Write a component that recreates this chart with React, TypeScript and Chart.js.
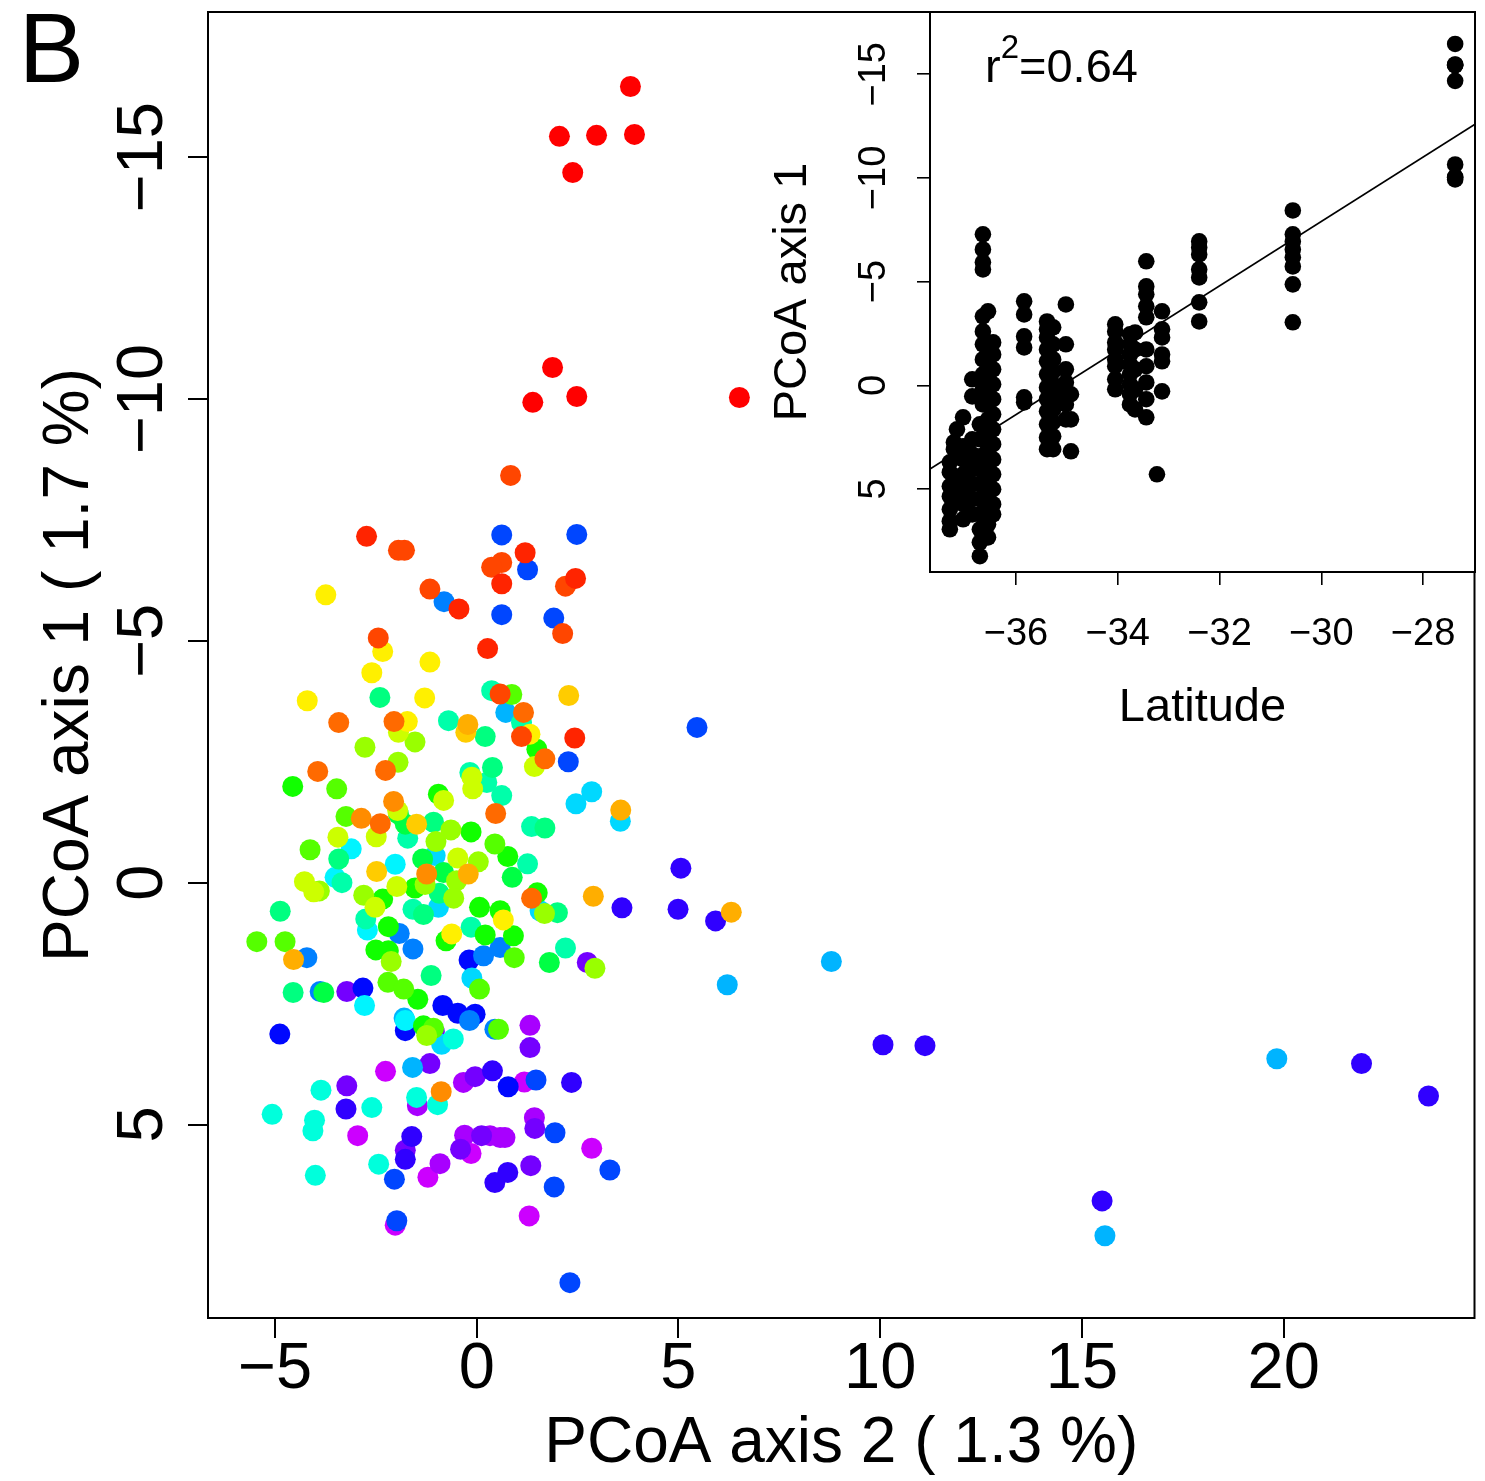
import React, { useEffect, useRef } from 'react';
import { Chart, registerables } from 'chart.js';

Chart.register(...registerables);

const FONT = '"Liberation Sans", Arial, Helvetica, sans-serif';
const MINUS = '\u2212';
const fmt = (v: number) => (v < 0 ? MINUS + Math.abs(v) : String(v));

// ---------- main plot axes ----------
const xTicks = [-5, 0, 5, 10, 15, 20];
const yTicks = [-15, -10, -5, 0, 5];
const xRange = [-6.66, 24.73];
const yRange = [-18.0, 9.0];
const xTitle = 'PCoA axis 2 ( 1.3 %)';
const yTitle = 'PCoA axis 1 ( 1.7 %)';
const panelLabel = 'B';

// ---------- main plot points, grouped by colour ----------
const red0Pts = [[3.81, -16.46], [2.05, -15.43], [2.97, -15.45], [3.91, -15.47], [2.38, -14.68], [1.88, -10.65], [1.39, -9.93], [2.48, -10.05], [6.51, -10.03]];
const redPts = [[-2.73, -7.16], [-0.44, -5.66], [0.27, -4.84], [1.20, -6.82], [0.62, -6.18], [2.45, -6.29], [2.43, -2.99]];
const orangeRedPts = [[0.84, -8.42], [-1.94, -6.87], [-1.79, -6.87], [-1.16, -6.07], [-2.44, -5.06], [0.62, -6.62], [0.37, -6.52], [2.20, -6.13], [2.13, -5.15], [0.58, -3.90], [1.11, -3.02]];
const orangePts = [[-3.42, -3.31], [-2.05, -3.33], [-2.26, -2.32], [-3.94, -2.30], [1.16, -3.52], [1.69, -2.56], [0.47, -1.43], [1.36, 0.32], [-2.39, -1.22]];
const darkOrangePts = [[-2.86, -1.33], [-1.24, -0.18], [-0.88, 4.32], [-2.06, -1.68]];
const amberPts = [[-0.22, -3.27], [3.57, -1.50], [2.89, 0.28], [6.31, 0.61], [-0.21, -0.18], [-4.54, 1.59]];
const goldPts = [[-0.27, -3.11], [2.28, -3.87], [-1.49, -1.21], [-2.48, -0.23]];
const yellowPts = [[-3.74, -5.95], [-2.33, -4.78], [-2.60, -4.34], [-1.16, -4.56], [-4.20, -3.76], [-1.29, -3.82], [-1.72, -3.33], [1.32, -3.07], [0.66, 0.77], [-0.62, 1.06]];
const yellowGreenPts = [[-1.94, -3.11], [-0.12, -2.18], [-0.10, -1.94], [1.43, -2.40], [-0.82, -1.70], [-1.96, -1.49], [-3.44, -0.94], [-2.49, -0.95], [-0.47, -0.51], [-4.27, -0.02], [-1.98, 0.08], [-2.52, 0.51], [-4.04, 0.19]];
const chartreusePts = [[-1.53, -2.91], [-2.77, -2.80], [-1.95, -2.49], [-0.64, -1.09], [-1.01, -0.85], [0.04, -0.43], [-0.50, -0.04], [-3.90, 0.17], [-1.28, 0.04], [-0.57, 0.32], [-2.80, 0.26], [1.68, 0.64], [-2.12, 1.63], [2.93, 1.77], [-1.24, 3.16]];
const limePts = [[-3.47, -1.94], [0.87, -3.89], [-3.24, -1.37], [0.45, -0.80], [-4.13, -0.68], [-5.45, 1.22], [-4.75, 1.22], [0.93, 1.55], [0.07, 2.20], [-2.20, 2.06], [-1.81, 2.20], [-1.07, 3.01], [0.54, 3.03]];
const greenPts = [[-4.56, -1.99], [-0.95, -1.83], [1.49, -2.76], [0.77, -0.54], [-0.14, -1.05], [1.50, 0.21], [0.58, 0.58], [0.91, 1.10], [-1.53, 0.11], [-2.33, 0.34], [0.07, 0.51], [-2.19, 0.91], [0.21, 1.08], [-0.76, 1.20], [-2.50, 1.39], [-2.19, 1.41], [-1.46, 2.41], [-1.32, 2.96]];
const green2Pts = [[0.88, -0.11], [-1.94, -1.42], [-1.77, -1.21], [-1.34, -0.49], [-0.82, -0.21], [1.80, 1.65], [-3.79, 2.27]];
const springPts = [[0.21, -3.02], [0.39, -2.38], [1.69, -1.13], [-1.07, -1.25], [-3.42, -0.49], [-0.93, 0.22], [-1.32, 0.66], [-4.87, 0.59], [2.00, 0.62], [-1.13, 1.92], [-4.55, 2.27], [-2.40, -3.83]];
const aquaPts = [[-0.70, -3.35], [0.37, -3.97], [1.11, -3.31], [-0.17, -2.28], [0.25, -2.07], [0.62, -1.80], [1.36, -1.16], [1.26, -0.39], [-1.71, -0.92], [-3.34, 0.00], [-1.58, 0.55], [-2.75, 0.75], [-0.14, 0.92], [2.20, 1.35]];
const turquoisePts = [[-0.58, 3.23], [-3.86, 4.29], [-2.60, 4.65], [-5.07, 4.79], [-4.02, 4.91], [-4.06, 5.13], [-1.49, 4.44], [-0.97, 4.59], [-2.43, 5.82], [-4.00, 6.05]];
const cyanPts = [[-3.11, -0.70], [-2.02, -0.38], [-3.51, -0.11], [-2.71, 0.98], [-2.78, 2.54], [-1.77, 2.85]];
const cyan2Pts = [[2.85, -1.88], [2.46, -1.63], [3.56, -1.27], [-1.03, -0.56], [-0.95, 0.51], [1.57, 0.58], [-0.12, 1.97], [-0.87, 3.34]];
const skyPts = [[0.72, -3.52], [8.79, 1.63], [19.83, 3.64], [15.57, 7.30], [6.21, 2.11], [-1.59, 3.82], [-1.80, 2.80]];
const azurePts = [[-0.81, -5.81], [0.58, 1.34], [-4.21, 1.55], [-1.92, 1.05], [-1.58, 1.37], [0.17, 1.51], [-3.88, 2.25], [-0.18, 2.85], [0.45, 3.03]];
const bluePts = [[0.62, -7.19], [2.48, -7.20], [1.26, -6.47], [0.62, -5.54], [1.91, -5.47], [5.46, -3.21], [2.27, -2.50], [1.47, 4.08], [1.94, 5.17], [3.30, 5.94], [1.92, 6.29], [2.31, 8.27], [-2.04, 6.13], [-1.98, 6.99]];
const deepBluePts = [[-0.19, 1.60], [-2.82, 2.18], [-0.84, 2.54], [-0.47, 2.70], [-0.04, 2.72], [-4.88, 3.13], [-1.77, 3.06], [0.78, 4.22]];
const indigoPts = [[5.06, -0.30], [3.60, 0.52], [4.99, 0.55], [5.92, 0.79], [10.07, 3.35], [11.11, 3.37], [21.93, 3.74], [23.59, 4.41], [15.50, 6.58], [-3.24, 4.68], [0.39, 3.89], [-1.61, 5.25], [-1.77, 5.72], [0.45, 6.20], [2.35, 4.13], [0.77, 5.99]];
const violetPts = [[2.74, 1.65], [-3.22, 2.25], [-3.22, 4.20], [-1.16, 3.74], [-0.04, 4.01], [-1.77, 5.53], [-0.40, 5.51], [0.12, 5.23], [1.32, 3.41], [1.44, 5.08], [1.34, 5.85], [-1.05, 3.08]];
const purplePts = [[-1.47, 4.61], [-0.33, 4.13], [-0.91, 5.81], [-0.30, 5.22], [0.33, 5.23], [0.58, 5.27], [1.32, 2.95], [1.43, 4.86], [0.70, 5.27]];
const magentaPts = [[-2.26, 3.90], [-2.95, 5.23], [-1.21, 6.09], [-0.14, 5.60], [-2.02, 7.08], [1.18, 4.12], [2.85, 5.49], [1.30, 6.89]];

const mainGroups: [string, number[][]][] = [
  ['#FF0000', red0Pts],
  ['#FF2400', redPts],
  ['#FF4600', orangeRedPts],
  ['#FF6A00', orangePts],
  ['#FF8C00', darkOrangePts],
  ['#FFAE00', amberPts],
  ['#FFCC00', goldPts],
  ['#FFF000', yellowPts],
  ['#CCFF00', yellowGreenPts],
  ['#99FF00', chartreusePts],
  ['#55FF00', limePts],
  ['#11FF00', greenPts],
  ['#00FF44', green2Pts],
  ['#00FF80', springPts],
  ['#00FFAA', aquaPts],
  ['#00FFDC', turquoisePts],
  ['#00F4FF', cyanPts],
  ['#00D8FF', cyan2Pts],
  ['#00B4FF', skyPts],
  ['#0080FF', azurePts],
  ['#0046FF', bluePts],
  ['#0008FF', deepBluePts],
  ['#3000FF', indigoPts],
  ['#7400FF', violetPts],
  ['#A800FF', purplePts],
  ['#CC00FF', magentaPts],
];

// ---------- inset: latitude vs PCoA axis 1 ----------
const insetXTicks = [-36, -34, -32, -30, -28];
const insetYTicks = [-15, -10, -5, 0, 5];
const insetXRange = [-37.69, -26.98];
const insetYRange = [-18.0, 9.0];
const insetXTitle = 'Latitude';
const insetYTitle = 'PCoA axis 1';
const insetLat = [-37.30, -37.22, -37.16, -37.04, -36.86, -36.71, -36.65, -36.55, -36.45, -35.84, -35.39, -35.27, -35.02, -34.92, -34.05, -33.76, -33.66, -33.44, -33.23, -33.13, -32.40, -30.56, -27.37];
const insetPC1 = [
  [3.71, 4.19, 4.87, 5.35, 5.98, 6.55, 6.94],
  [2.75, 3.08, 4.53, 5.49],
  [2.12],
  [1.54, 2.94, 3.57, 4.29, 5.01, 5.73, 6.46],
  [-0.29, 0.53, 2.60, 3.33, 4.05, 4.77, 5.49, 6.22],
  [1.88, 2.60, 3.42, 4.05, 4.77, 5.49, 6.22, 6.94, 7.57, 8.24],
  [-7.28, -6.55, -5.93, -5.59, -3.33, -2.60, -1.98, -1.25, -0.53, 0.19, 0.92],
  [-3.57, 1.64, 2.36, 3.08, 3.81, 4.53, 5.25, 5.98, 6.70, 7.33],
  [-2.07, -1.49, -0.77, -0.05, 0.67, 1.40, 2.12, 2.84, 3.57, 4.29, 5.01, 5.73, 6.22],
  [-4.05, -3.42, -2.36, -1.83, 0.58, 0.82],
  [-3.08, -2.70, -2.31, -1.73, -1.16, -0.53, 0.10, 0.67, 1.25, 1.88, 2.51, 3.08],
  [-2.80, -1.98, -1.25, -0.67, -0.05, 0.58, 1.16, 1.78, 2.46, 3.08],
  [-3.90, -1.98, -0.77, -0.14, 0.34, 0.92, 1.64],
  [0.43, 1.64, 3.18],
  [-2.94, -2.60, -2.07, -1.73, -1.25, -0.92, -0.29, 0.19],
  [-2.46, -1.98, -1.49, -1.01, -0.53, -0.05, 0.43, 0.92],
  [-2.55, -1.73, -0.77, 0.19, 1.16],
  [-5.98, -4.77, -4.39, -3.81, -3.28, -1.73, -0.92, -0.14, 0.67, 1.54],
  [4.29],
  [-3.57, -2.70, -2.31, -1.49, -1.16, 0.29],
  [-6.94, -6.65, -6.31, -5.59, -5.20, -4.00, -3.08],
  [-8.43, -7.28, -6.94, -6.55, -6.17, -5.73, -4.87, -3.04],
  [-16.46, -15.45, -15.43, -15.47, -14.68, -10.65, -10.05, -10.03, -9.93],
];
const fitSlope = -1.552;
const fitIntercept = -54.46;
const fitLabel = '0.64';

const mainDecor = {
  id: 'mainDecor',
  afterDraw(chart: any) {
    const { ctx, chartArea: a, scales } = chart;
    ctx.save();
    ctx.strokeStyle = '#000';
    ctx.lineWidth = 2;
    ctx.strokeRect(a.left, a.top, a.right - a.left, a.bottom - a.top);
    ctx.fillStyle = '#000';
    ctx.font = `65px ${FONT}`;
    ctx.textAlign = 'center';
    ctx.textBaseline = 'alphabetic';
    for (const t of scales.x.ticks) {
      ctx.fillText(fmt(t.value), scales.x.getPixelForValue(t.value), a.bottom + 70);
    }
    for (const t of scales.y.ticks) {
      const py = scales.y.getPixelForValue(t.value);
      ctx.save();
      ctx.translate(a.left - 46, py);
      ctx.rotate(-Math.PI / 2);
      ctx.fillText(fmt(t.value), 0, 0);
      ctx.restore();
    }
    ctx.font = `64px ${FONT}`;
    ctx.fillText(xTitle, (a.left + a.right) / 2, a.bottom + 144);
    ctx.save();
    ctx.translate(88, (a.top + a.bottom) / 2);
    ctx.rotate(-Math.PI / 2);
    ctx.fillText(yTitle, 0, 0);
    ctx.restore();
    ctx.font = `98px ${FONT}`;
    ctx.fillText(panelLabel, 51.5, 82);
    ctx.restore();
  },
};

const insetDecor = {
  id: 'insetDecor',
  beforeDatasetsDraw(chart: any) {
    const { ctx, chartArea: a } = chart;
    ctx.save();
    ctx.fillStyle = '#fff';
    ctx.fillRect(a.left, a.top, a.right - a.left, a.bottom - a.top);
    ctx.restore();
  },
  afterDraw(chart: any) {
    const { ctx, chartArea: a, scales } = chart;
    ctx.save();
    ctx.strokeStyle = '#000';
    ctx.lineWidth = 2;
    ctx.strokeRect(a.left, a.top, a.right - a.left, a.bottom - a.top);
    ctx.fillStyle = '#000';
    ctx.font = `38px ${FONT}`;
    ctx.textAlign = 'center';
    ctx.textBaseline = 'alphabetic';
    for (const t of scales.x.ticks) {
      ctx.fillText(fmt(t.value), scales.x.getPixelForValue(t.value), a.bottom + 73);
    }
    for (const t of scales.y.ticks) {
      const py = scales.y.getPixelForValue(t.value);
      ctx.save();
      ctx.translate(a.left - 45, py);
      ctx.rotate(-Math.PI / 2);
      ctx.fillText(fmt(t.value), 0, 0);
      ctx.restore();
    }
    ctx.font = `47px ${FONT}`;
    ctx.fillText(insetXTitle, (a.left + a.right) / 2, a.bottom + 149);
    ctx.save();
    ctx.translate(a.left - 124, (a.top + a.bottom) / 2);
    ctx.rotate(-Math.PI / 2);
    ctx.fillText(insetYTitle, 0, 0);
    ctx.restore();
    // r^2 label
    ctx.textAlign = 'left';
    let x = a.left + 55;
    const base = 82;
    ctx.font = `47px ${FONT}`;
    ctx.fillText('r', x, base);
    x += ctx.measureText('r').width;
    ctx.font = `33px ${FONT}`;
    ctx.fillText('2', x, base - 24);
    x += ctx.measureText('2').width;
    ctx.font = `47px ${FONT}`;
    ctx.fillText('=' + fitLabel, x, base);
    ctx.restore();
  },
};

export default function App() {
  const mainRef = useRef<HTMLCanvasElement>(null);
  const insetRef = useRef<HTMLCanvasElement>(null);

  useEffect(() => {
    const common = (w: number, h: number) => ({
      animation: false as const,
      responsive: false,
      events: [] as any[],
      plugins: { legend: { display: false }, tooltip: { enabled: false } },
    });

    const main = new Chart(mainRef.current!, {
      type: 'scatter',
      data: {
        datasets: mainGroups.map(([color, pts]) => ({
          data: pts.map(([x, y]) => ({ x, y })),
          backgroundColor: color,
          borderWidth: 0,
          pointRadius: 10.5,
          pointHoverRadius: 10.5,
        })),
      },
      options: {
        ...common(1485, 1481),
        layout: { padding: { top: 12, right: 10, left: 0, bottom: 0 } },
        scales: {
          x: {
            type: 'linear',
            min: xRange[0],
            max: xRange[1],
            afterBuildTicks: (s: any) => { s.ticks = xTicks.map((v) => ({ value: v })); },
            afterFit: (s: any) => { s.height = 163; },
            ticks: { display: false },
            grid: { drawOnChartArea: false, drawTicks: true, tickLength: 20, lineWidth: 2, color: '#000' },
            border: { display: false },
          },
          y: {
            type: 'linear',
            reverse: true,
            min: yRange[0],
            max: yRange[1],
            afterBuildTicks: (s: any) => { s.ticks = yTicks.map((v) => ({ value: v })); },
            afterFit: (s: any) => { s.width = 208; },
            ticks: { display: false },
            grid: { drawOnChartArea: false, drawTicks: true, tickLength: 20, lineWidth: 2, color: '#000' },
            border: { display: false },
          },
        },
      } as any,
      plugins: [mainDecor],
    });

    const insetPoints: { x: number; y: number }[] = [];
    insetLat.forEach((lat, i) => insetPC1[i].forEach((v) => insetPoints.push({ x: lat, y: v })));

    const inset = new Chart(insetRef.current!, {
      type: 'scatter',
      data: {
        datasets: [
          {
            type: 'line',
            data: insetXRange.map((lat) => ({ x: lat, y: fitIntercept + fitSlope * lat })),
            borderColor: '#000',
            borderWidth: 1.6,
            pointRadius: 0,
            fill: false,
          } as any,
          {
            data: insetPoints,
            backgroundColor: '#000',
            borderWidth: 0,
            pointRadius: 8.3,
            pointHoverRadius: 8.3,
          },
        ],
      },
      options: {
        ...common(725, 740),
        layout: { padding: { top: 12, right: 10, left: 0, bottom: 0 } },
        scales: {
          x: {
            type: 'linear',
            min: insetXRange[0],
            max: insetXRange[1],
            afterBuildTicks: (s: any) => { s.ticks = insetXTicks.map((v) => ({ value: v })); },
            afterFit: (s: any) => { s.height = 168; },
            ticks: { display: false },
            grid: { drawOnChartArea: false, drawTicks: true, tickLength: 13, lineWidth: 1.6, color: '#000' },
            border: { display: false },
          },
          y: {
            type: 'linear',
            reverse: true,
            min: insetYRange[0],
            max: insetYRange[1],
            afterBuildTicks: (s: any) => { s.ticks = insetYTicks.map((v) => ({ value: v })); },
            afterFit: (s: any) => { s.width = 170; },
            ticks: { display: false },
            grid: { drawOnChartArea: false, drawTicks: true, tickLength: 13, lineWidth: 1.6, color: '#000' },
            border: { display: false },
          },
        },
      } as any,
      plugins: [insetDecor],
    });

    return () => {
      main.destroy();
      inset.destroy();
    };
  }, []);

  return (
    <div style={{ position: 'absolute', left: 0, top: 0, width: 1485, height: 1481, background: '#fff', overflow: 'hidden' }}>
      <canvas ref={mainRef} width={1485} height={1481} style={{ position: 'absolute', left: 0, top: 0 }} />
      <canvas ref={insetRef} width={725} height={740} style={{ position: 'absolute', left: 760, top: 0 }} />
    </div>
  );
}
